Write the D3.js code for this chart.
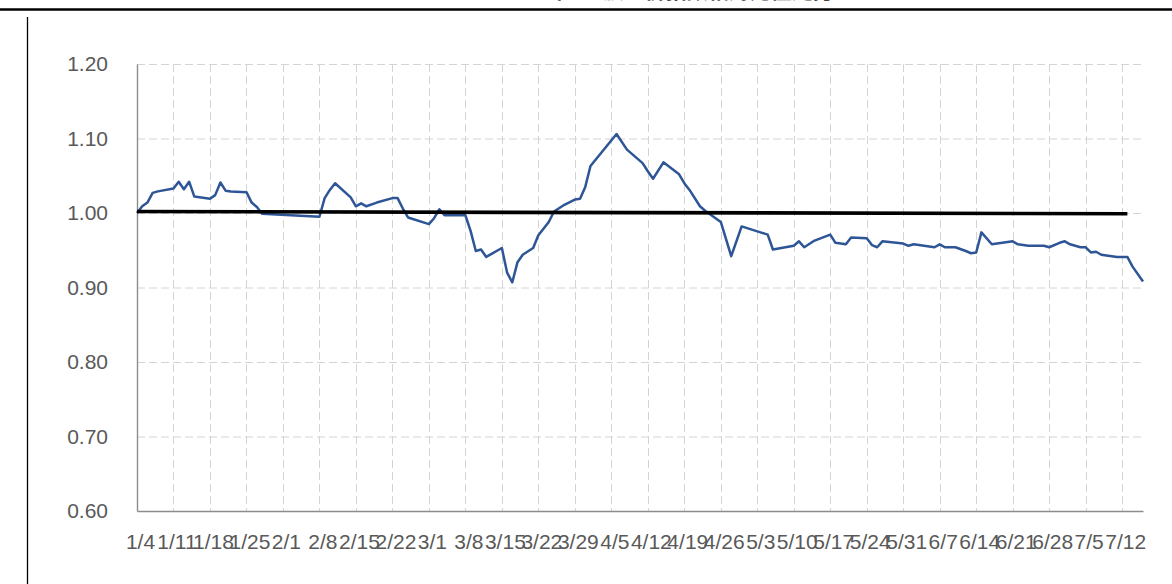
<!DOCTYPE html>
<html>
<head>
<meta charset="utf-8">
<script src="https://cdn.jsdelivr.net/npm/d3@7"></script>
<style>
  html, body { margin: 0; padding: 0; background: #ffffff; }
  svg { display: block; }
</style>
</head>
<body>
<svg id="chart" width="1172" height="584"></svg>
<script>
// ---------- data ----------
const title = "2021年 AH股溢价指数相对比值走势";
const dates = [
  "2021-01-04","2021-01-05","2021-01-06","2021-01-07","2021-01-08","2021-01-11","2021-01-12","2021-01-13","2021-01-14","2021-01-15",
  "2021-01-18","2021-01-19","2021-01-20","2021-01-21","2021-01-22","2021-01-25","2021-01-26","2021-01-27","2021-01-28","2021-02-08",
  "2021-02-09","2021-02-10","2021-02-11","2021-02-14","2021-02-15","2021-02-16","2021-02-17","2021-02-19","2021-02-22","2021-02-23",
  "2021-02-24","2021-02-25","2021-03-01","2021-03-02","2021-03-03","2021-03-04","2021-03-08","2021-03-09","2021-03-10","2021-03-11",
  "2021-03-12","2021-03-15","2021-03-16","2021-03-17","2021-03-18","2021-03-19","2021-03-21","2021-03-22","2021-03-24","2021-03-25",
  "2021-03-27","2021-03-29","2021-03-30","2021-03-31","2021-04-01","2021-04-06","2021-04-08","2021-04-09","2021-04-11","2021-04-12",
  "2021-04-13","2021-04-15","2021-04-18","2021-04-19","2021-04-20","2021-04-22","2021-04-23","2021-04-26","2021-04-28","2021-04-30",
  "2021-05-05","2021-05-06","2021-05-10","2021-05-11","2021-05-12","2021-05-14","2021-05-17","2021-05-18","2021-05-20","2021-05-21",
  "2021-05-24","2021-05-25","2021-05-26","2021-05-27","2021-05-31","2021-06-01","2021-06-02","2021-06-06","2021-06-07","2021-06-08",
  "2021-06-10","2021-06-12","2021-06-13","2021-06-14","2021-06-15","2021-06-17","2021-06-21","2021-06-22","2021-06-24","2021-06-27",
  "2021-06-28","2021-06-30","2021-07-01","2021-07-02","2021-07-04","2021-07-05","2021-07-06","2021-07-07","2021-07-08","2021-07-11",
  "2021-07-13","2021-07-14","2021-07-16"
];
const ratio = [
  1.000,1.009,1.014,1.027,1.029,1.033,1.042,1.032,1.042,1.022,
  1.019,1.024,1.041,1.030,1.029,1.028,1.014,1.008,0.999,0.995,
  1.020,1.031,1.040,1.021,1.009,1.013,1.009,1.014,1.020,1.020,
  1.006,0.994,0.985,0.993,1.005,0.997,0.997,0.976,0.949,0.951,
  0.941,0.953,0.920,0.907,0.934,0.944,0.953,0.970,0.988,1.002,
  1.011,1.018,1.019,1.035,1.063,1.106,1.085,1.079,1.067,1.056,
  1.046,1.068,1.052,1.040,1.031,1.009,1.003,0.988,0.942,0.982,
  0.971,0.951,0.956,0.962,0.954,0.963,0.971,0.960,0.958,0.967,
  0.966,0.957,0.954,0.962,0.959,0.956,0.958,0.954,0.958,0.954,
  0.954,0.949,0.946,0.947,0.974,0.958,0.962,0.958,0.956,0.956,
  0.954,0.960,0.962,0.958,0.954,0.954,0.947,0.948,0.944,0.941,
  0.941,0.928,0.908
];
const baseDates = ["2021-01-04","2021-07-13"];
const baseValues = [1.002, 0.999];
const xTickLabels = ["1/4","1/11","1/18","1/25","2/1","2/8","2/15","2/22","3/1","3/8","3/15","3/22","3/29","4/5",
  "4/12","4/19","4/26","5/3","5/10","5/17","5/24","5/31","6/7","6/14","6/21","6/28","7/5","7/12"];
const yTicks = [0.60, 0.70, 0.80, 0.90, 1.00, 1.10, 1.20];
const xDomain = ["2021-01-04","2021-07-16"];

// ---------- setup ----------
const parse = d3.utcParse("%Y-%m-%d");
const svg = d3.select("#chart");
const W = 1172, H = 584;
const plot = {left: 137, right: 1143, top: 64, bottom: 511};
const font = "'Liberation Sans', Arial, sans-serif";

const x = d3.scaleUtc().domain(xDomain.map(parse)).range([plot.left, plot.right]);
const y = d3.scaleLinear().domain([0.6, 1.2]).range([plot.bottom, plot.top]);
const tickDates = xTickLabels.map(s => { const [m, d] = s.split("/").map(Number); return new Date(Date.UTC(2021, m - 1, d)); });

// frame decorations
svg.append("line").attr("x1", 0).attr("x2", W).attr("y1", 9.5).attr("y2", 9.5)
  .attr("stroke", "#000").attr("stroke-width", 2.6);
svg.append("line").attr("x1", 27.5).attr("x2", 27.5).attr("y1", 17).attr("y2", H)
  .attr("stroke", "#000").attr("stroke-width", 1.3);

// title (cut off at the top, as in the source picture)
svg.append("text").attr("x", 666).attr("y", -2).attr("text-anchor", "middle")
  .attr("font-family", "'Noto Sans CJK SC', sans-serif").attr("font-size", 21).attr("font-weight", "bold")
  .attr("fill", "#404040").text(title);

// gridlines
const grid = svg.append("g");
grid.selectAll("line.h").data(yTicks.filter(v => v > 0.6)).join("line")
  .attr("x1", plot.left).attr("x2", plot.right)
  .attr("y1", d => y(d) + 0.5).attr("y2", d => y(d) + 0.5)
  .attr("stroke", "#d4d4d4").attr("stroke-width", 1).attr("stroke-dasharray", "8,4");
grid.selectAll("line.v").data(tickDates.slice(1)).join("line")
  .attr("x1", d => Math.round(x(d)) + 0.5).attr("x2", d => Math.round(x(d)) + 0.5)
  .attr("y1", plot.top).attr("y2", plot.bottom)
  .attr("stroke", "#d4d4d4").attr("stroke-width", 1).attr("stroke-dasharray", "8,4");

// axes
const xAxis = d3.axisBottom(x).tickValues(tickDates).tickSize(0).tickPadding(23)
  .tickFormat((d, i) => xTickLabels[i]);
const gx = svg.append("g").attr("transform", `translate(0,${plot.bottom})`).call(xAxis);
gx.select(".domain").attr("stroke", "#8c8c8c").attr("stroke-width", 1.4);
gx.selectAll("text").attr("font-family", font).attr("font-size", 21).attr("fill", "#595959").attr("dx", 3);

const yAxis = d3.axisLeft(y).tickValues(yTicks).tickSize(0).tickPadding(29).tickFormat(d3.format(".2f"));
const gy = svg.append("g").attr("transform", `translate(${plot.left},0)`).call(yAxis);
gy.select(".domain").attr("stroke", "#8c8c8c").attr("stroke-width", 1.4);
gy.selectAll("text").attr("font-family", font).attr("font-size", 21).attr("fill", "#595959");

// series
const series = dates.map((d, i) => ({date: parse(d), v: ratio[i]}));
const line = d3.line().x(d => x(d.date)).y(d => y(d.v));
svg.append("path").datum(series).attr("d", line)
  .attr("fill", "none").attr("stroke", "#2e5596").attr("stroke-width", 2.5).attr("stroke-linejoin", "round");

const base = baseDates.map((d, i) => ({date: parse(d), v: baseValues[i]}));
svg.append("path").datum(base).attr("d", line)
  .attr("fill", "none").attr("stroke", "#000").attr("stroke-width", 3.6);
</script>
</body>
</html>
